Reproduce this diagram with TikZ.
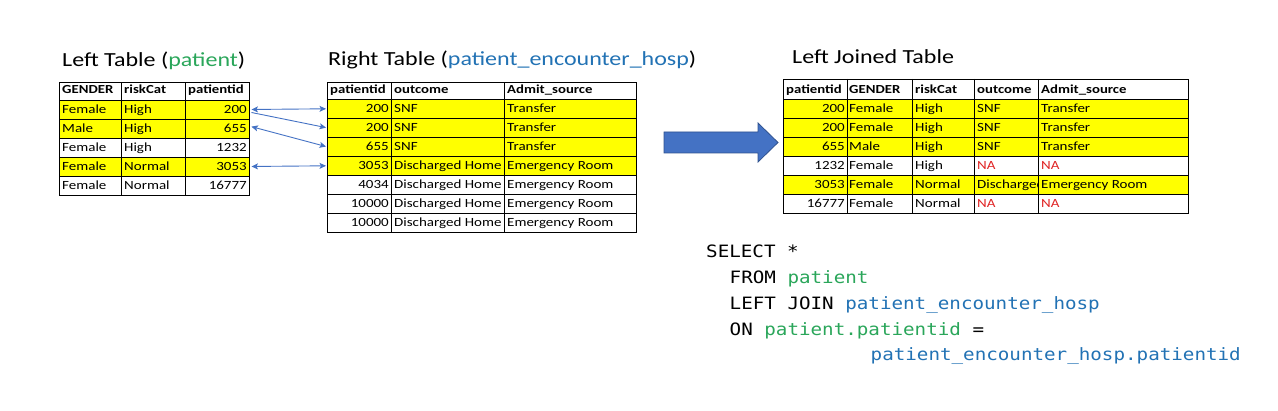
\documentclass[tikz,border=0pt]{standalone}
\usepackage{fontspec}
\setmainfont{Carlito}
\newfontfamily\cellfont{Carlito}[FakeStretch=1.2]
\newfontfamily\titlefont{Carlito}[FakeStretch=1.2]
\newfontfamily\codefont{DejaVu Sans Mono}[FakeStretch=1.13]
\usetikzlibrary{arrows.meta,calc}
\definecolor{hlyellow}{HTML}{FFFF00}
\definecolor{tgreen}{HTML}{2AA65A}
\definecolor{tblue}{HTML}{2272B4}
\definecolor{arrowblue}{HTML}{4472C4}
\definecolor{arrowedge}{HTML}{2F528F}
\definecolor{nared}{HTML}{E02424}
\begin{document}
\begin{tikzpicture}[x=1pt,y=-1pt,
  >={Stealth[length=6.5pt,width=6pt,inset=1.5pt]},
  cf/.style={font=\cellfont\fontsize{12.5}{14}\selectfont},
  txtl/.style={cf, anchor=base west, inner sep=0pt},
  txtr/.style={cf, anchor=base east, inner sep=0pt},
  hdr/.style={anchor=base west, inner sep=0pt, font=\cellfont\fontsize{12.3}{14}\selectfont\bfseries},
  rowbox/.style={draw=black, line width=0.9pt, inner sep=0pt, outer sep=0pt, anchor=north west},
  grid/.style={draw=black, line width=0.9pt},
  title/.style={anchor=base west, inner sep=0pt, font=\titlefont\fontsize{20}{24}\selectfont},
  code/.style={anchor=base west, inner sep=0pt, font=\codefont\fontsize{17}{20}\selectfont},
  link/.style={draw=arrowblue, line width=0.9pt, shorten <=2.5pt, shorten >=1pt},
  bigarrow/.style={fill=arrowblue, draw=arrowedge, line width=0.8pt, line join=miter}
]
\useasboundingbox (0,0) rectangle (1278,411);

% ---------- titles ----------
\node[title] (tL) at (62,67) {Left Table (\textcolor{tgreen}{patient})};
\node[title] (tR) at (328,65.5) {Right Table (\textcolor{tblue}{patient\_encounter\_hosp})};
\node[title] (tJ) at (792,64) {Left Joined Table};

% ---------- left table ----------
\node[rowbox, minimum width=190pt, minimum height=17.5pt] (Lh) at (59,82.5) {};
\foreach \g/\r/\p/\f [count=\i] in {Female/High/200/hlyellow, Male/High/655/hlyellow, Female/High/1232/white, Female/Normal/3053/hlyellow, Female/Normal/16777/white}{
  \node[rowbox, fill=\f, minimum width=190pt, minimum height=19pt] (Lr\i) at (59,{100+19*(\i-1)}) {};
  \node[txtl] (Lg\i) at (62,{100+19*\i-5.5}) {\g};
  \node[txtl] (Lk\i) at (124,{100+19*\i-5.5}) {\r};
  \node[txtr] (Lp\i) at (247,{100+19*\i-5.5}) {\p};
}
\draw[grid] (121,82.5) -- (121,195) (185,82.5) -- (185,195);
\node[hdr] (LhG) at (62,93.5) {GENDER};
\node[hdr] (LhR) at (124,93.5) {riskCat};
\node[hdr] (LhP) at (188,93.5) {patientid};

% ---------- right table ----------
\node[rowbox, minimum width=309pt, minimum height=16.6pt] (Rh) at (327,82.7) {};
\foreach \p/\o/\a/\f [count=\i] in {200/SNF/Transfer/hlyellow, 200/SNF/Transfer/hlyellow, 655/SNF/Transfer/hlyellow, 3053/Discharged Home/Emergency Room/hlyellow, 4034/Discharged Home/Emergency Room/white, 10000/Discharged Home/Emergency Room/white, 10000/Discharged Home/Emergency Room/white}{
  \node[rowbox, fill=\f, minimum width=309pt, minimum height=19pt] (Rr\i) at (327,{99.3+19*(\i-1)}) {};
  \node[txtr] (Rp\i) at (389,{99.3+19*\i-5.5}) {\p};
  \node[txtl] (Ro\i) at (394,{99.3+19*\i-5.5}) {\o};
  \node[txtl] (Ra\i) at (507,{99.3+19*\i-5.5}) {\a};
}
\draw[grid] (391,82.7) -- (391,232.3) (504,82.7) -- (504,232.3);
\node[hdr] (RhP) at (330,93.5) {patientid};
\node[hdr] (RhO) at (394,93.5) {outcome};
\node[hdr] (RhA) at (507,93.5) {Admit\_source};

% ---------- joined table ----------
\node[rowbox, minimum width=405pt, minimum height=20.3pt] (Jh) at (783,79) {};
\foreach \p/\g/\r/\o/\a/\f [count=\i] in {200/Female/High/SNF/Transfer/hlyellow, 200/Female/High/SNF/Transfer/hlyellow, 655/Male/High/SNF/Transfer/hlyellow, 1232/Female/High/{\textcolor{nared}{NA}}/{\textcolor{nared}{NA}}/white, 3053/Female/Normal/{}/Emergency Room/hlyellow, 16777/Female/Normal/{\textcolor{nared}{NA}}/{\textcolor{nared}{NA}}/white}{
  \node[rowbox, fill=\f, minimum width=405pt, minimum height=19pt] (Jr\i) at (783,{99.3+19*(\i-1)}) {};
  \node[txtr] (Jp\i) at (845,{99.3+19*\i-5.5}) {\p};
  \node[txtl] (Jg\i) at (849,{99.3+19*\i-5.5}) {\g};
  \node[txtl] (Jk\i) at (915,{99.3+19*\i-5.5}) {\r};
  \node[txtl] (Jo\i) at (977,{99.3+19*\i-5.5}) {\o};
  \node[txtl] (Ja\i) at (1041,{99.3+19*\i-5.5}) {\a};
}
\begin{scope}
  \clip (974,175.3) rectangle (1037.5,194.3);
  \node[txtl] (Jo5b) at (977,188.8) {Discharged};
\end{scope}
\draw[grid] (847,79) -- (847,213.3) (912,79) -- (912,213.3) (974,79) -- (974,213.3) (1038,79) -- (1038,213.3);
\node[hdr] (JhP) at (786,93.5) {patientid};
\node[hdr] (JhG) at (849,93.5) {GENDER};
\node[hdr] (JhR) at (915,93.5) {riskCat};
\node[hdr] (JhO) at (977,93.5) {outcome};
\node[hdr] (JhA) at (1041,93.5) {Admit\_source};

% ---------- matching arrows ----------
\draw[link, <->] (Lr1.east) -- (Rr1.west);
\draw[link, ->] ($(Lr1.east)+(0,2.5)$) -- (Rr2.west);
\draw[link, <->] ($(Lr2.east)+(0,-2.5)$) -- (Rr3.west);
\draw[link, <->] (Lr4.east) -- (Rr4.west);

% ---------- big arrow ----------
\coordinate (ba) at (664,142.5);
\draw[bigarrow] (ba) -- ++(0,-10.5) -- ++(94,0) -- ++(0,-9) -- ++(20,19.5) -- ++(-20,19.5) -- ++(0,-9) -- ++(-94,0) -- cycle;

% ---------- SQL ----------
\node[code] (s1) at (706,258) {SELECT *};
\node[code] (s2) at (729.5,283.75) {FROM \textcolor{tgreen}{patient}};
\node[code] (s3) at (729.5,309.5) {LEFT JOIN \textcolor{tblue}{patient\_encounter\_hosp}};
\node[code] (s4) at (729.5,335.25) {ON \textcolor{tgreen}{patient.patientid} =};
\node[code] (s5) at (870.5,361) {\textcolor{tblue}{patient\_encounter\_hosp.patientid}};
\end{tikzpicture}
\end{document}
